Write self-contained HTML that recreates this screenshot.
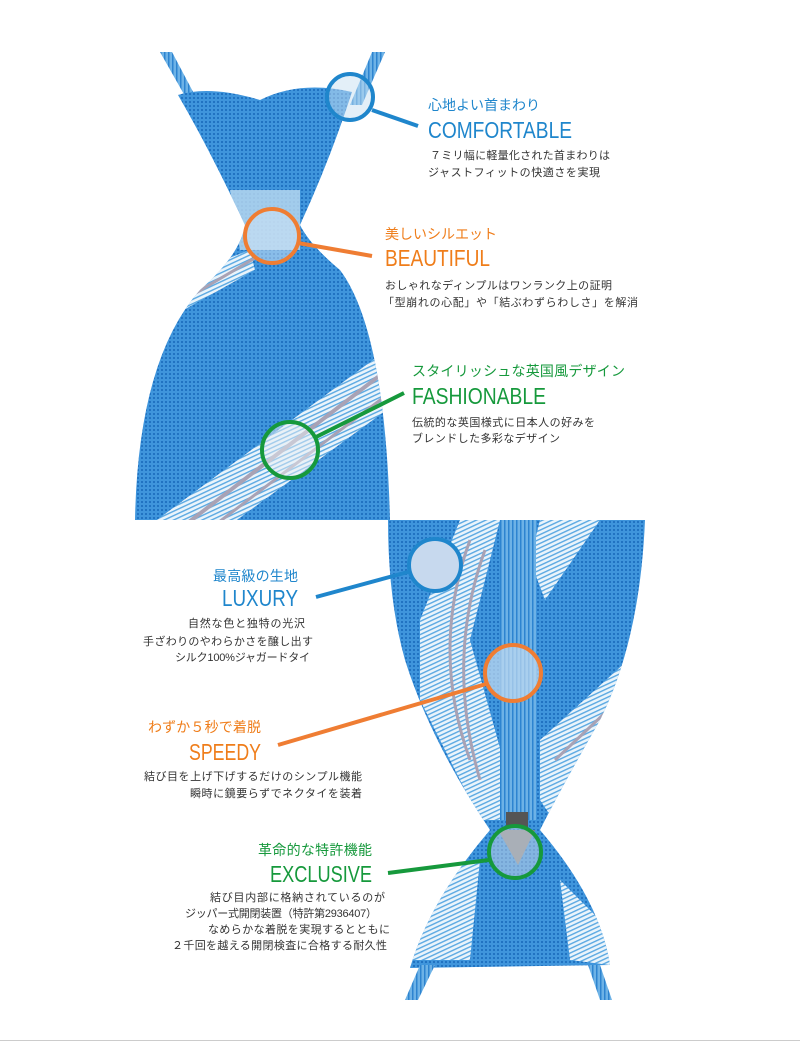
<!DOCTYPE html>
<html><head><meta charset="utf-8"><style>
html,body{margin:0;padding:0;background:#fff;}
svg{display:block;}
text{font-family:"Liberation Sans","Noto Sans CJK JP",sans-serif;}
.h{font-size:14px;}
.b{font-size:11px;fill:#333;}
.e{font-family:"Liberation Sans Narrow","Liberation Sans",sans-serif;font-size:23px;}
</style></head><body>
<svg width="800" height="1044" viewBox="0 0 800 1044" xmlns="http://www.w3.org/2000/svg">
<defs>
<pattern id="dots" width="4" height="4" patternUnits="userSpaceOnUse">
<rect width="4" height="4" fill="#3f95dc"/><rect x="1" y="1" width="2" height="2" fill="#2173c2"/>
</pattern>
<pattern id="wl" width="4" height="4" patternUnits="userSpaceOnUse" patternTransform="rotate(-25)">
<rect width="4" height="4" fill="#eaf4fb"/><rect width="4" height="1.4" fill="#5aa8e2"/>
</pattern>
<pattern id="vl" width="4" height="4" patternUnits="userSpaceOnUse">
<rect width="4" height="4" fill="#6db2e6"/><rect width="1.5" height="4" fill="#2d84d0"/>
</pattern>
<clipPath id="top"><path d="M178,95 Q210,85 260,100 Q300,80 352,92 Q330,160 300,225 Q310,245 340,270 Q385,330 390,520 L135,520 Q138,360 200,290 Q240,255 245,225 Q210,150 178,95Z"/></clipPath>
<clipPath id="bot"><path d="M388,520 L645,520 Q640,640 600,720 Q560,790 540,830 Q600,900 610,965 L410,968 Q430,900 490,830 Q430,740 405,660 Q388,600 388,520Z"/></clipPath>
</defs>

<path d="M160,52 L172,52 L200,105 L190,105Z" fill="url(#vl)"/>
<path d="M372,52 L385,52 L362,105 L350,105Z" fill="url(#vl)"/>

<g clip-path="url(#top)">
<rect x="130" y="80" width="270" height="445" fill="url(#dots)"/>
<path d="M230,190 L300,190 L300,250 L240,250Z" fill="#bcd9f0" opacity=".8"/>
<path d="M120,300 L250,250 L255,270 L130,340Z" fill="url(#wl)"/>
<path d="M150,525 L400,340 L400,400 L230,525Z" fill="url(#wl)"/>
<path d="M185,525 L400,360" stroke="#a9a2b4" stroke-width="4"/>
<path d="M215,525 L400,385" stroke="#a9a2b4" stroke-width="3"/>
<path d="M150,320 L255,258" stroke="#a9a2b4" stroke-width="3"/>
</g>

<g clip-path="url(#bot)">
<rect x="385" y="515" width="265" height="460" fill="url(#dots)"/>
<path d="M460,520 L500,520 L470,640 L520,820 L480,820 L420,700 L420,620Z" fill="url(#wl)"/>
<path d="M540,520 L600,520 L545,600 L530,560Z" fill="url(#wl)"/>
<path d="M650,640 L650,720 L560,830 L540,800 L540,740Z" fill="url(#wl)"/>
<path d="M470,540 Q430,650 470,760" stroke="#a9a2b4" stroke-width="3" fill="none"/>
<path d="M485,550 Q445,660 480,780" stroke="#a9a2b4" stroke-width="3" fill="none"/>
<path d="M640,680 L555,760" stroke="#a9a2b4" stroke-width="3"/>
<path d="M400,880 L480,860 L470,960 L410,960Z" fill="url(#wl)"/>
<path d="M560,880 L610,930 L610,965 L570,960Z" fill="url(#wl)"/>
<rect x="500" y="520" width="36" height="300" fill="url(#vl)"/>
<rect x="506" y="812" width="22" height="15" fill="#555"/>
<path d="M498,830 L535,830 L518,865Z" fill="#888"/>
</g>
<path d="M420,965 L435,965 L418,1000 L405,1000Z" fill="url(#vl)"/>
<path d="M588,965 L600,965 L612,1000 L600,1000Z" fill="url(#vl)"/>

<g fill="none" stroke-width="4">
<circle cx="350" cy="97" r="23" stroke="#1f86cc" fill="#c8dff2" fill-opacity=".5"/>
<line x1="372" y1="110" x2="418" y2="126" stroke="#1f86cc"/>
<circle cx="272" cy="236" r="27" stroke="#ef7d33" fill="#d3e6f5" fill-opacity=".5"/>
<line x1="298" y1="243" x2="372" y2="256" stroke="#ef7d33"/>
<circle cx="290" cy="450" r="28" stroke="#16993c" fill="#e8eef4" fill-opacity=".5"/>
<line x1="316" y1="437" x2="404" y2="393" stroke="#16993c"/>
<circle cx="435" cy="565" r="26" stroke="#1f86cc" fill="#c7d9ee"/>
<line x1="316" y1="597" x2="408" y2="572" stroke="#1f86cc"/>
<circle cx="513" cy="673" r="28" stroke="#ef7d33" fill="#c3dcf1" fill-opacity=".7"/>
<line x1="278" y1="745" x2="486" y2="684" stroke="#ef7d33"/>
<circle cx="515" cy="852" r="26" stroke="#16993c" fill="#c9d6e5" fill-opacity=".5"/>
<line x1="388" y1="873" x2="489" y2="860" stroke="#16993c"/>
</g>

<text x="428" y="110" class="h" fill="#1f86cc" textLength="112">心地よい首まわり</text>
<text x="428" y="138" class="e" fill="#1f86cc" textLength="144" lengthAdjust="spacingAndGlyphs">COMFORTABLE</text>
<text x="430" y="159" class="b" textLength="180">７ミリ幅に軽量化された首まわりは</text>
<text x="428" y="176" class="b" textLength="172">ジャストフィットの快適さを実現</text>

<text x="385" y="239" class="h" fill="#ef7d1a" textLength="112">美しいシルエット</text>
<text x="385" y="266" class="e" fill="#ef7d1a" textLength="105" lengthAdjust="spacingAndGlyphs">BEAUTIFUL</text>
<text x="385" y="289" class="b" textLength="227">おしゃれなディンプルはワンランク上の証明</text>
<text x="383" y="306" class="b" textLength="255">「型崩れの心配」や「結ぶわずらわしさ」を解消</text>

<text x="412" y="376" class="h" fill="#16993c" textLength="213">スタイリッシュな英国風デザイン</text>
<text x="412" y="404" class="e" fill="#16993c" textLength="134" lengthAdjust="spacingAndGlyphs">FASHIONABLE</text>
<text x="412" y="426" class="b" textLength="183">伝統的な英国様式に日本人の好みを</text>
<text x="412" y="442" class="b" textLength="148">ブレンドした多彩なデザイン</text>

<text x="213" y="581" class="h" fill="#1f86cc" textLength="85">最高級の生地</text>
<text x="222" y="606" class="e" fill="#1f86cc" textLength="76" lengthAdjust="spacingAndGlyphs">LUXURY</text>
<text x="188" y="627" class="b" textLength="117">自然な色と独特の光沢</text>
<text x="143" y="645" class="b" textLength="170">手ざわりのやわらかさを醸し出す</text>
<text x="175" y="661" class="b" textLength="135">シルク100%ジャガードタイ</text>

<text x="148" y="732" class="h" fill="#ef7d1a" textLength="113">わずか５秒で着脱</text>
<text x="189" y="760" class="e" fill="#ef7d1a" textLength="72" lengthAdjust="spacingAndGlyphs">SPEEDY</text>
<text x="144" y="780" class="b" textLength="218">結び目を上げ下げするだけのシンプル機能</text>
<text x="190" y="797" class="b" textLength="172">瞬時に鏡要らずでネクタイを装着</text>

<text x="258" y="855" class="h" fill="#16993c" textLength="114">革命的な特許機能</text>
<text x="270" y="882" class="e" fill="#16993c" textLength="102" lengthAdjust="spacingAndGlyphs">EXCLUSIVE</text>
<text x="210" y="901" class="b" textLength="175">結び目内部に格納されているのが</text>
<text x="185" y="917" class="b" textLength="192">ジッパー式開閉装置（特許第2936407）</text>
<text x="208" y="933" class="b" textLength="182">なめらかな着脱を実現するとともに</text>
<text x="172" y="949" class="b" textLength="215">２千回を越える開閉検査に合格する耐久性</text>

<line x1="0" y1="1040.5" x2="800" y2="1040.5" stroke="#ccc" stroke-width="1"/>
</svg>
</body></html>
